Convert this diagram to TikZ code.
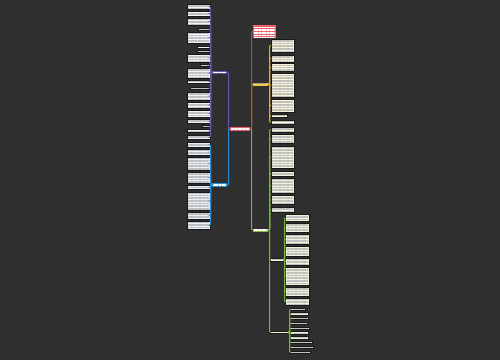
\documentclass[tikz,border=0pt]{standalone}
\usetikzlibrary{patterns.meta}
\definecolor{bg}{HTML}{2F2F2F}
\definecolor{cred}{HTML}{EE5F6C}
\definecolor{lred}{HTML}{C8434F}
\definecolor{cpur}{HTML}{6A56B0}
\definecolor{cblu}{HTML}{2A8FD0}
\definecolor{cyel}{HTML}{F5CC3A}
\definecolor{lyel}{HTML}{E0B020}
\definecolor{cgrn}{HTML}{86BB45}
\definecolor{lgrn}{HTML}{78B436}
\definecolor{fpur}{HTML}{F3F1FA}
\definecolor{fblu}{HTML}{E6F1FA}
\definecolor{fyel}{HTML}{FBF4D6}
\definecolor{fgrn}{HTML}{EDF4DA}
\tikzset{
  x=1pt, y=-1pt,
  txbox/.style={draw=black!90, line width=0.7pt, inner sep=0pt, outer sep=0pt, anchor=north west,
    path picture={\fill[pattern={Lines[distance=1.6pt,angle=0,line width=0.45pt]}, pattern color=#1]
      ([shift={(1pt,-1pt)}]path picture bounding box.north west) rectangle
      ([shift={(-1pt,1pt)}]path picture bounding box.south east);}},
  txbox/.default={black!26},
  pbox/.style={txbox, fill=fpur},
  bbox/.style={txbox, fill=fblu},
  ybox/.style={txbox, fill=fyel},
  gbox/.style={txbox, fill=fgrn},
  mainbox/.style={txbox={white!80}, draw=none},
  link/.style={line width=1pt, rounded corners=1pt},
}
\newcommand\bx[6]{\node[#2,minimum width={(#5-#3)*1pt},minimum height={(#6-#4)*1pt}] (#1) at (#3,#4) {};}
\newcommand\linkR[3]{\draw[link,color=#3] (#1.east) -- ++(1.5,0) |- (#2.west);}
\newcommand\linkL[3]{\draw[link,color=#3] (#1.west) -- ++(-1.5,0) |- (#2.east);}
\begin{document}
\begin{tikzpicture}
\fill[bg] (0,0) rectangle (500,360);
\useasboundingbox (0,0) rectangle (500,360);
% main nodes
\bx{center}{mainbox,fill=cred}{230}{126.5}{250}{131}
\bx{pn}{mainbox,fill=cpur}{212}{70.8}{227}{73.8}
\bx{bn}{mainbox,fill=cblu}{212}{183.3}{227}{186.5}
\bx{rn}{mainbox,fill=cred}{253}{25}{276}{38}
\bx{yn}{txbox={black!40},draw=none,fill=cyel}{252.5}{82.5}{268}{85.5}
\bx{gn}{mainbox,fill=cgrn}{252.5}{228.5}{268}{231.5}
\bx{gs1}{gbox}{270.5}{258.3}{283}{261}
\bx{gs2}{gbox}{270.5}{331}{288}{333.8}
% purple children
\bx{p1}{pbox}{187}{4}{210}{9}
\bx{p2}{pbox}{187}{11}{210}{16.3}
\bx{p3}{pbox}{187}{18}{210}{25}
\bx{p4}{pbox}{198}{28}{210}{30.5}
\bx{p5}{pbox}{187}{32}{210}{43}
\bx{p6}{pbox}{197}{46}{210}{48.5}
\bx{p7}{pbox}{197}{50}{210}{52.5}
\bx{p8}{pbox}{187}{54}{210}{62}
\bx{p9}{pbox}{200}{64}{210}{66.5}
\bx{p10}{pbox}{187}{68}{210}{78}
\bx{p11}{pbox}{187}{80}{210}{83}
\bx{p12}{pbox}{190}{87}{210}{89.8}
\bx{p13}{pbox}{187}{92}{210}{100}
\bx{p14}{pbox}{187}{102}{210}{108}
\bx{p15}{pbox}{187}{110}{210}{117}
\bx{p16}{pbox}{187}{119}{210}{123.5}
\bx{p17}{pbox}{202}{125.6}{210}{127.8}
\bx{p18}{pbox}{187}{129.5}{210}{132.8}
\bx{p19}{pbox}{187}{135}{210}{139.5}
% blue children
\bx{b1}{bbox}{187}{142}{210}{147}
\bx{b2}{bbox}{187}{149}{210}{155}
\bx{b3}{bbox}{187}{157}{210}{170}
\bx{b4}{bbox}{187}{172}{210}{183}
\bx{b5}{bbox}{187}{185}{210}{189.5}
\bx{b6}{bbox}{187}{192}{210}{210}
\bx{b7}{bbox}{187}{212}{210}{219}
\bx{b8}{bbox}{187}{221}{210}{229}
% yellow children
\bx{y1}{ybox}{271}{39}{294}{52}
\bx{y2}{ybox}{271}{55}{294}{62}
\bx{y3}{ybox}{271}{63.8}{294}{71}
\bx{y4}{ybox}{271}{73}{294}{97}
\bx{y5}{ybox}{271}{99}{294}{112}
\bx{y6}{ybox}{271}{114.8}{287}{117.3}
\bx{y7}{ybox}{271}{120}{294}{124}
% green children
\bx{g1}{gbox}{271}{127}{294}{132}
\bx{g2}{gbox}{271}{134}{294}{143}
\bx{g3}{gbox}{271}{146}{294}{168}
\bx{g4}{gbox}{271}{171}{294}{176.3}
\bx{g5}{gbox}{271}{178}{294}{193}
\bx{g6}{gbox}{271}{195}{294}{204.5}
\bx{g7}{gbox}{271}{207.3}{294}{212}
% green sub 1 children
\bx{s1}{gbox}{285.5}{214}{309}{221.5}
\bx{s2}{gbox}{285.5}{223}{309}{232}
\bx{s3}{gbox}{285.5}{234}{309}{244}
\bx{s4}{gbox}{285.5}{246}{309}{256.5}
\bx{s5}{gbox}{285.5}{258.5}{309}{265}
\bx{s6}{gbox}{285.5}{267.5}{309}{285}
\bx{s7}{gbox}{285.5}{287}{309}{296}
\bx{s8}{gbox}{285.5}{298}{309}{305.5}
% green sub 2 children
\bx{t1}{gbox}{290.5}{308}{305}{310.6}
\bx{t2}{gbox}{290.5}{312.6}{308}{315.2}
\bx{t3}{gbox}{290.5}{317}{308}{319.6}
\bx{t4}{gbox}{290.5}{322}{307}{324.6}
\bx{t5}{gbox}{290.5}{327}{309}{329.6}
\bx{t6}{gbox}{290.5}{331.8}{308}{334.4}
\bx{t7}{gbox}{290.5}{336.5}{308}{339.1}
\bx{t8}{gbox}{290.5}{341.2}{312}{343.8}
\bx{t9}{gbox}{290.5}{346}{313}{348.6}
\bx{t10}{gbox}{290.5}{351}{310}{353.6}
% main connectors
\linkL{center}{pn}{cpur}
\linkL{center}{bn}{cblu}
\linkR{center}{gn}{lgrn}
\linkR{center}{yn}{lyel}
\linkR{center}{rn}{lred}
% children connectors
\foreach \i in {1,...,19} {\linkL{pn}{p\i}{cpur}}
\foreach \i in {1,...,8} {\linkL{bn}{b\i}{cblu}}
\foreach \i in {1,...,7} {\linkR{yn}{y\i}{lyel}}
\foreach \i in {1,...,7} {\linkR{gn}{g\i}{lgrn}}
\linkR{gn}{gs1}{lgrn}
\linkR{gn}{gs2}{lgrn}
\foreach \i in {1,...,8} {\linkR{gs1}{s\i}{lgrn}}
\foreach \i in {1,...,10} {\linkR{gs2}{t\i}{lgrn}}
\end{tikzpicture}
\end{document}
